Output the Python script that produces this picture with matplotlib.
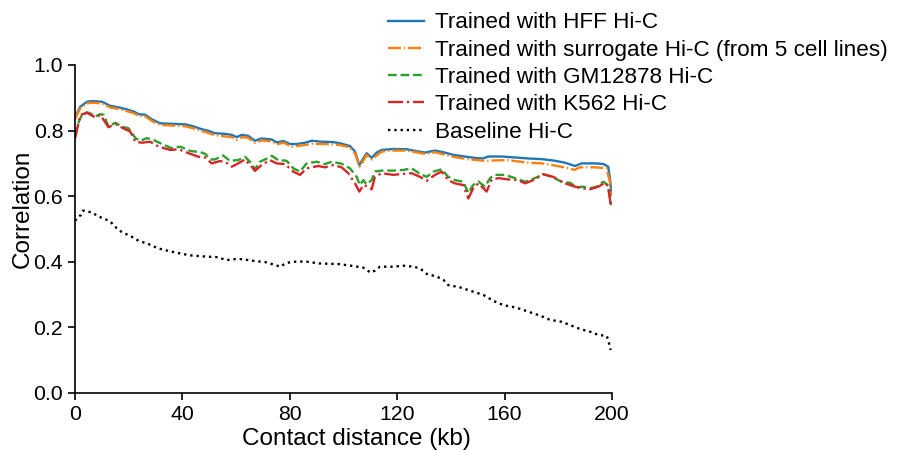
import matplotlib.pyplot as plt

plt.rcParams['font.family'] = ['Liberation Sans', 'DejaVu Sans']

# HFF Hi-C (blue)
hff_x = [0, 2, 4.5, 6.3, 10, 11.3, 13.2, 15, 18.7, 21.9, 23.7, 26.2, 28.7, 31.8, 34.9, 41.1,
         43.6, 47.3, 49.8, 52.1, 55.9, 58.4, 60.2, 62.1, 64.5, 67, 69.5, 73.3, 75.1, 77.6,
         80.1, 82.6, 85.7, 88.2, 91.9, 96.2, 99.3, 102.4, 104.3, 105.9, 107.4, 108.6, 110.5,
         112.4, 114.2, 118.6, 123.5, 127.3, 130.4, 134.1, 137.2, 140.9, 145.9, 149.6, 152.1,
         153.9, 158.9, 163.9, 168.8, 173.8, 178.8, 182.5, 186.2, 188.7, 193.7, 196.8, 198.6,
         199.3, 199.7]
hff_y = [0.84, 0.873, 0.888, 0.890, 0.888, 0.883, 0.875, 0.873, 0.866, 0.858, 0.850, 0.848,
         0.834, 0.822, 0.821, 0.819, 0.814, 0.804, 0.799, 0.792, 0.790, 0.787, 0.780, 0.787,
         0.784, 0.769, 0.776, 0.773, 0.764, 0.768, 0.759, 0.759, 0.763, 0.769, 0.766, 0.765,
         0.760, 0.753, 0.736, 0.695, 0.715, 0.731, 0.717, 0.733, 0.741, 0.744, 0.743, 0.737,
         0.733, 0.739, 0.734, 0.726, 0.720, 0.716, 0.715, 0.721, 0.721, 0.718, 0.715, 0.713,
         0.708, 0.702, 0.692, 0.700, 0.700, 0.698, 0.690, 0.649, 0.615]

# surrogate Hi-C (orange)
sur_x = [0, 2, 4.5, 6.3, 10, 11.3, 13.2, 15, 18.7, 21.9, 23.7, 26.2, 28.7, 31.8, 34.9, 41.1,
         43.6, 47.3, 48.4, 52.1, 58.4, 60.2, 62.1, 64.5, 67, 69.5, 73.3, 75.1, 77.6, 80.8,
         85.7, 88.2, 91.9, 96.2, 98.7, 102.4, 104.3, 106, 107.4, 108.6, 110.5, 114.2, 118.6,
         123.5, 130.4, 134.1, 141, 146, 150, 152, 161, 169, 174, 179, 184, 186, 188, 194, 198,
         199.3, 199.7]
sur_y = [0.835, 0.868, 0.883, 0.885, 0.883, 0.878, 0.870, 0.868, 0.861, 0.853, 0.845, 0.843,
         0.829, 0.817, 0.816, 0.813, 0.808, 0.798, 0.796, 0.786, 0.780, 0.772, 0.780, 0.778,
         0.763, 0.770, 0.767, 0.758, 0.763, 0.751, 0.756, 0.760, 0.759, 0.758, 0.756, 0.749,
         0.730, 0.690, 0.708, 0.726, 0.712, 0.736, 0.739, 0.739, 0.729, 0.734, 0.720, 0.713,
         0.710, 0.708, 0.710, 0.702, 0.700, 0.693, 0.685, 0.680, 0.688, 0.688, 0.685, 0.640,
         0.600]

# GM12878 Hi-C (green)
gm_x = [0, 1.4, 2.6, 4.5, 6.3, 7.6, 9.4, 10.7, 12.5, 15, 17.5, 20, 22.5, 24.3, 26.8, 29.3,
        32.4, 36.1, 39.2, 42.9, 46.7, 48.5, 50.4, 52.1, 55.2, 57.7, 60.8, 63.3, 65.8, 67,
        68.9, 70.8, 73.3, 75.7, 78.8, 81.3, 83.8, 86.3, 90, 93.1, 95.6, 99.3, 102.4, 104.9,
        106.1, 107.4, 108.6, 110.5, 111.7, 114.2, 118.6, 122.3, 125.4, 128.5, 131, 133.5,
        136.6, 139, 141.5, 144.6, 146.5, 148.3, 150.2, 152.7, 154.6, 156.4, 160.1, 163.9,
        167.6, 171.3, 174.4, 177.5, 181.3, 184.4, 186.8, 189.3, 191.8, 194.3, 196.8, 198.4,
        199.3, 199.7]
gm_y = [0.785, 0.827, 0.848, 0.856, 0.850, 0.843, 0.850, 0.848, 0.812, 0.824, 0.812, 0.807,
        0.777, 0.769, 0.777, 0.771, 0.759, 0.746, 0.751, 0.738, 0.734, 0.729, 0.712, 0.712,
        0.724, 0.708, 0.710, 0.720, 0.700, 0.682, 0.705, 0.712, 0.723, 0.710, 0.708, 0.685,
        0.675, 0.700, 0.705, 0.698, 0.705, 0.699, 0.685, 0.659, 0.634, 0.649, 0.636, 0.649,
        0.675, 0.678, 0.678, 0.680, 0.685, 0.668, 0.659, 0.675, 0.682, 0.659, 0.649, 0.644,
        0.610, 0.634, 0.645, 0.629, 0.655, 0.665, 0.665, 0.655, 0.644, 0.655, 0.667, 0.659,
        0.644, 0.641, 0.627, 0.629, 0.624, 0.629, 0.644, 0.634, 0.594, 0.573]

# K562 Hi-C (red)
k562_x = [0, 2, 4.5, 7.6, 9.4, 12.5, 15, 18, 20.6, 22.5, 24.9, 28, 31.2, 35.5, 38.6, 42.3,
          46.1, 48.5, 50.9, 54, 55.9, 58.4, 60.8, 63.3, 65.8, 67, 69.5, 72.6, 75.1, 78.2,
          81.3, 83.8, 86.3, 90.6, 93.1, 96.2, 99.3, 101.8, 104.3, 105.9, 107.4, 109.2, 110.5,
          111.7, 114.2, 118.6, 122.3, 125.4, 128.5, 131, 134.1, 136.6, 139, 141.5, 144.6,
          146.5, 148.3, 150.2, 151.5, 153.3, 155.2, 157.7, 161.4, 165.1, 167.6, 171.3, 174.4,
          178.1, 181.9, 186.2, 188.7, 191.8, 194.9, 197.4, 198.6, 199.6]
k562_y = [0.775, 0.848, 0.854, 0.840, 0.848, 0.810, 0.820, 0.807, 0.797, 0.766, 0.763, 0.766,
          0.751, 0.741, 0.743, 0.731, 0.720, 0.718, 0.700, 0.707, 0.705, 0.690, 0.700, 0.712,
          0.690, 0.677, 0.695, 0.710, 0.700, 0.698, 0.675, 0.665, 0.685, 0.692, 0.688, 0.695,
          0.688, 0.670, 0.639, 0.614, 0.634, 0.629, 0.621, 0.659, 0.670, 0.665, 0.668, 0.670,
          0.659, 0.647, 0.665, 0.675, 0.649, 0.639, 0.634, 0.593, 0.624, 0.639, 0.629, 0.614,
          0.651, 0.655, 0.651, 0.649, 0.639, 0.651, 0.667, 0.659, 0.641, 0.629, 0.624, 0.621,
          0.629, 0.641, 0.629, 0.569]

# Baseline Hi-C (black)
base_x = [0, 1.4, 2.3, 3, 4.8, 6.6, 8.2, 11.3, 13.2, 15.6, 17.5, 20.6, 23.7, 27.4, 30.9, 34.9,
          39.9, 43.6, 48.5, 52.9, 56.6, 58.5, 62.2, 67.2, 70.9, 74.6, 76.5, 78.3, 80.8, 85.8,
          90.8, 98.2, 103.7, 107.4, 110.1, 111.7, 113.6, 118.6, 122.3, 126, 128.5, 131, 134.7,
          137.2, 139, 143.4, 148.3, 152.1, 155.8, 159.5, 164.5, 169.5, 173.2, 176.9, 181.3,
          184.4, 188.1, 191.8, 194.9, 198, 198.6, 199.5]
base_y = [0.525, 0.538, 0.543, 0.556, 0.553, 0.550, 0.540, 0.530, 0.522, 0.502, 0.490, 0.479,
          0.464, 0.454, 0.441, 0.433, 0.424, 0.419, 0.416, 0.414, 0.405, 0.408, 0.408, 0.402,
          0.399, 0.390, 0.385, 0.395, 0.400, 0.401, 0.395, 0.393, 0.387, 0.382, 0.367, 0.373,
          0.385, 0.385, 0.388, 0.385, 0.380, 0.363, 0.355, 0.345, 0.329, 0.322, 0.309, 0.299,
          0.281, 0.268, 0.260, 0.246, 0.236, 0.223, 0.217, 0.207, 0.195, 0.187, 0.177, 0.174,
          0.162, 0.131]

fig = plt.figure(figsize=(8.98, 4.5), dpi=100)
ax = fig.add_axes([0.0835, 0.1267, 0.598, 0.7289])

lw = 1.7
ax.plot(hff_x, hff_y, color='#1f77b4', lw=lw, label='Trained with HFF Hi-C')
ax.plot(sur_x, sur_y, color='#ff7f0e', lw=lw, dashes=(5.5, 1.2, 0.6, 1.2),
        label='Trained with surrogate Hi-C (from 5 cell lines)')
ax.plot(gm_x, gm_y, color='#2ca02c', lw=lw, ls='--', label='Trained with GM12878 Hi-C')
ax.plot(k562_x, k562_y, color='#d62728', lw=lw, ls='-.', label='Trained with K562 Hi-C')
ax.plot(base_x, base_y, color='black', lw=lw, ls=':', label='Baseline Hi-C')

ax.set_xlim(0, 200)
ax.set_ylim(0, 1)
ax.set_xticks([0, 40, 80, 120, 160, 200])
ax.set_yticks([0, 0.2, 0.4, 0.6, 0.8, 1.0])
ax.set_yticklabels(['0.0', '0.2', '0.4', '0.6', '0.8', '1.0'])
ax.tick_params(labelsize=15.3, length=5, width=1.2)
ax.spines['top'].set_visible(False)
ax.spines['right'].set_visible(False)
ax.spines['left'].set_linewidth(1.2)
ax.spines['bottom'].set_linewidth(1.2)
ax.set_xlabel('Contact distance (kb)', fontsize=17.5)
ax.set_ylabel('Correlation', fontsize=17.5)
ax.xaxis.set_label_coords(0.524, -0.107)
ax.yaxis.set_label_coords(-0.077, 0.56)

fig.legend(loc='upper left', bbox_to_anchor=(0.418, 1.0), frameon=False, fontsize=16.2,
           handlelength=1.6, handletextpad=0.5, labelspacing=0.28, borderaxespad=0.15)

fig.savefig('out.png', dpi=100)
